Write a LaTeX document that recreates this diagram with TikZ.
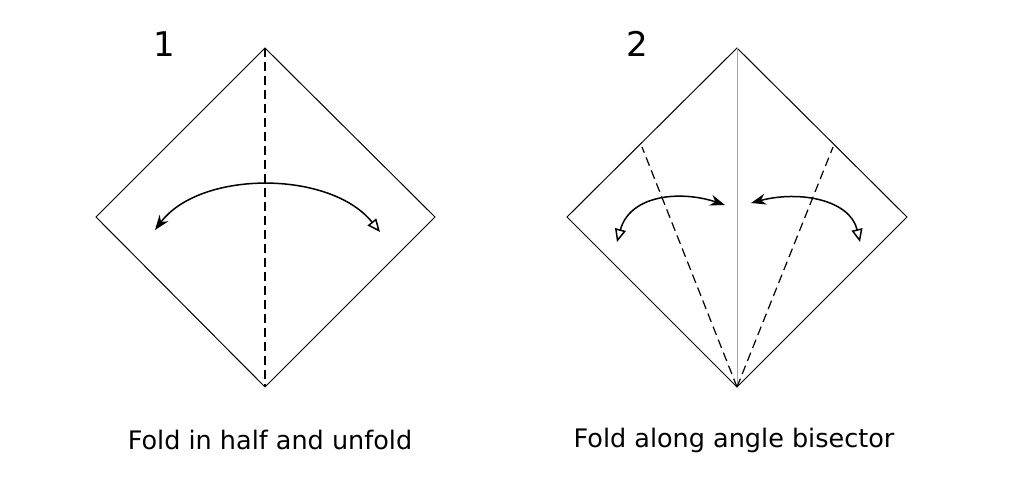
\documentclass[tikz,border=0pt]{standalone}
\usepackage{fontspec}
\setmainfont{DejaVu Sans}
\usetikzlibrary{arrows.meta,positioning}

\tikzset{
  paper/.style={draw,line width=1pt},
  valley/.style={draw,dashed,dash pattern=on 9pt off 5pt,line width=1.2pt},
  foldarrow/.style={line width=1.5pt,{Stealth[length=15pt,width=11pt]}-{Triangle[open,length=13pt,width=11pt]}},
  steplabel/.style={font=\fontsize{34}{38}\selectfont},
  caption/.style={font=\fontsize{25.5}{30}\selectfont}
}

\begin{document}
\begin{tikzpicture}[x=1pt,y=-1pt]
\useasboundingbox (0,0) rectangle (1017,491);

% Step 1
\coordinate (t1) at (265,48);
\coordinate (l1) at (96,217);
\coordinate (r1) at (435,217);
\coordinate (b1) at (265,387);
\draw[paper] (t1) -- (r1) -- (b1) -- (l1) -- cycle;
\draw[valley] (t1) -- (b1);
\coordinate (a1) at (155,230);
\coordinate (e1) at (380,232);
\draw[foldarrow] (a1) .. controls (200,170) and (330,170) .. (e1);
\node[steplabel] (n1) at (164,44) {1};
\node[caption] (c1) at (270,440) {Fold in half and unfold};

% Step 2
\coordinate (t2) at (737,48);
\coordinate (l2) at (567,217);
\coordinate (r2) at (907,217);
\coordinate (b2) at (737,387);
\coordinate (ml) at (642,147);
\coordinate (mr) at (833,147);
\draw[paper] (t2) -- (r2) -- (b2) -- (l2) -- cycle;
\draw[gray!70,line width=1pt] (t2) -- (b2);
\draw[valley] (b2) -- (ml);
\draw[valley] (b2) -- (mr);
\coordinate (a2) at (725,205);
\coordinate (e2) at (617,242);
\coordinate (a3) at (751,203);
\coordinate (e3) at (860,242);
\draw[foldarrow] (a2) .. controls (680,190) and (630,195) .. (e2);
\draw[foldarrow] (a3) .. controls (800,190) and (850,200) .. (e3);
\node[steplabel] (n2) at (637,44) {2};
\node[caption] (c2) at (734,440) {Fold along angle bisector};
\end{tikzpicture}
\end{document}
